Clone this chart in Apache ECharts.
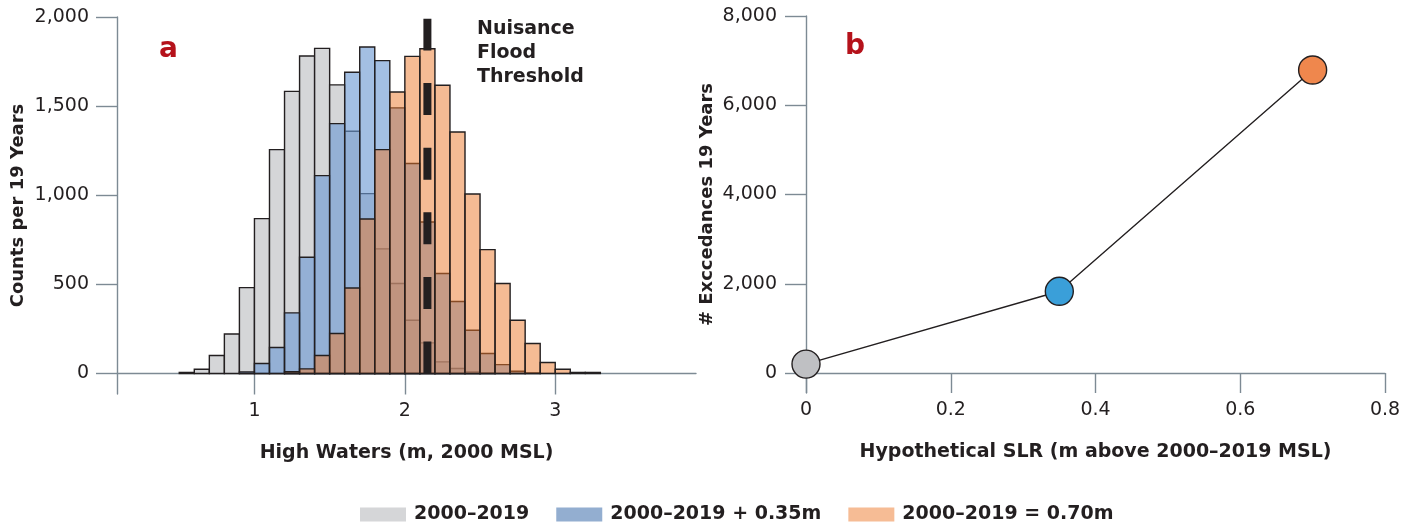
<!DOCTYPE html>
<html><head><meta charset="utf-8">
<script src="https://cdn.jsdelivr.net/npm/echarts@6/dist/echarts.min.js"></script>
<style>html,body{margin:0;padding:0;background:#fff}#c{width:1417px;height:524px}</style>
</head><body><div id="c"></div>
<script>
// ---- data ----
const binStart = [0.5,0.6,0.7,0.8,0.9,1.0,1.1,1.2,1.3,1.4,1.5,1.6,1.7,1.8,1.9,2.0,2.1,2.2,2.3,2.4,2.5,2.6,2.7,2.8,2.9,3.0,3.1,3.2];
const binWidth = 0.1;
const countsBase = [6,24,101,222,482,869,1256,1583,1781,1824,1619,1359,1009,699,505,299,172,65,28,9,3,0,0,0,0,0,0,0];
const countsPlus035 = [0,0,0,0,9,56,146,340,652,1110,1402,1690,1832,1755,1490,1178,850,561,404,243,112,50,13,3,0,0,0,0];
const countsPlus070 = [0,0,0,0,0,0,0,10,26,101,224,480,867,1256,1579,1779,1822,1617,1355,1007,695,505,299,168,62,24,6,6];
const seriesNames = ['2000\u20132019','2000\u20132019 + 0.35m','2000\u20132019 = 0.70m'];
const threshold = 2.15;
const thresholdTop = 1990;
const histYTicks = [0,500,1000,1500,2000];
const histXTicks = [1,2,3];
const slr = [0, 0.35, 0.70];
const exceedances = [200, 1831, 6790];
const slrXTicks = [0,0.2,0.4,0.6,0.8];
const exYTicks = [0,2000,4000,6000,8000];

// ---- styles ----
const FONT = 'DejaVu Sans';
const TXT = '#231f20';
const AX = '#7d8a94';
const fills = ['#d5d6d8','rgba(109,153,210,0.63)','rgba(235,119,41,0.5)'];
const legendFills = ['#d5d6d8','#93aed0','#f6bc95'];
const pointColors = ['#bfc0c3','#3a9fd9','#ef874d'];

function histData(arr){ return binStart.map((b,i)=>[b, arr[i]]).filter(d=>d[1]>0); }
function histSeries(name, arr, fill, z){
  return {
    type:'custom', name, xAxisIndex:0, yAxisIndex:0, z,
    itemStyle:{color:fill},
    data: histData(arr),
    encode:{x:0,y:1},
    renderItem:function(params, api){
      const x0 = api.value(0), c = api.value(1);
      const p1 = api.coord([x0, c]);
      const p2 = api.coord([x0 + binWidth, 0]);
      return {type:'rect', shape:{x:p1[0], y:p1[1], width:p2[0]-p1[0], height:p2[1]-p1[1]},
        style:{fill:fill, stroke:'#231f20', lineWidth:1.4}};
    }
  };
}
const fmt = v => Number(v).toLocaleString('en-US');

const chart = echarts.init(document.getElementById('c'), null, {renderer:'canvas'});
chart.setOption({
  animation:false,
  textStyle:{fontFamily:FONT, color:TXT},
  grid:[
    {left:117, right:721, top:17, bottom:130},
    {left:806, right:32, top:16, bottom:131}
  ],
  xAxis:[
    {type:'value', gridIndex:0, min:0.086, max:3.936,
     axisLine:{onZero:true, lineStyle:{color:AX, width:1.4}},
     axisTick:{show:true, customValues:histXTicks, length:21, lineStyle:{color:AX, width:1.4}},
     axisLabel:{customValues:histXTicks, fontSize:19, color:TXT, margin:8, fontFamily:FONT},
     splitLine:{show:false},
     name:'High Waters (m, 2000 MSL)', nameLocation:'middle', nameGap:50,
     nameTextStyle:{fontSize:19, fontWeight:'bold', color:TXT, fontFamily:FONT}},
    {type:'value', gridIndex:1, min:0, max:0.8,
     axisLine:{onZero:true, lineStyle:{color:AX, width:1.4}},
     axisTick:{show:true, customValues:slrXTicks, length:20, lineStyle:{color:AX, width:1.4}},
     axisLabel:{customValues:slrXTicks, fontSize:19, color:TXT, margin:8, fontFamily:FONT,
       formatter:v=>String(v)},
     splitLine:{show:false},
     name:'Hypothetical SLR (m above 2000\u20132019 MSL)', nameLocation:'middle', nameGap:50,
     nameTextStyle:{fontSize:19, fontWeight:'bold', color:TXT, fontFamily:FONT}}
  ],
  yAxis:[
    {type:'value', gridIndex:0, min:-115, max:2000,
     axisLine:{show:true, onZero:false, lineStyle:{color:AX, width:1.4}},
     axisTick:{show:true, customValues:histYTicks, length:21, lineStyle:{color:AX, width:1.4}},
     axisLabel:{customValues:histYTicks, fontSize:19, color:TXT, margin:28, fontFamily:FONT, formatter:fmt},
     splitLine:{show:false},
     name:'Counts per 19 Years', nameLocation:'middle', nameGap:90, nameRotate:90,
     nameTextStyle:{fontSize:18, fontWeight:'bold', color:TXT, fontFamily:FONT}},
    {type:'value', gridIndex:1, min:-448, max:8000,
     axisLine:{show:true, onZero:false, lineStyle:{color:AX, width:1.4}},
     axisTick:{show:true, customValues:exYTicks, length:21, lineStyle:{color:AX, width:1.4}},
     axisLabel:{customValues:exYTicks, fontSize:19, color:TXT, margin:29, fontFamily:FONT, formatter:fmt},
     splitLine:{show:false},
     name:'# Exccedances 19 Years', nameLocation:'middle', nameGap:90, nameRotate:90,
     nameTextStyle:{fontSize:18, fontWeight:'bold', color:TXT, fontFamily:FONT}}
  ],
  legend:{
    left:355, top:500, icon:'rect', itemWidth:46, itemHeight:14, itemGap:27,
    textStyle:{fontSize:19, fontWeight:'bold', color:TXT, fontFamily:FONT, padding:[0,0,0,3]},
    data: seriesNames.map((n,i)=>({name:n, itemStyle:{color:legendFills[i], borderWidth:0}}))
  },
  series:[
    histSeries(seriesNames[0], countsBase, fills[0], 2),
    histSeries(seriesNames[1], countsPlus035, fills[1], 3),
    histSeries(seriesNames[2], countsPlus070, fills[2], 4),
    {type:'line', name:'threshold', xAxisIndex:0, yAxisIndex:0, z:6,
     data:[[threshold,0],[threshold,thresholdTop]], symbol:'none', silent:true,
     lineStyle:{color:'#231f20', width:8, type:[32,32.6], cap:'butt'}},
    {type:'line', name:'exceed', xAxisIndex:1, yAxisIndex:1, z:5,
     data: slr.map((x,i)=>({value:[x, exceedances[i]], itemStyle:{color:pointColors[i]}})),
     symbol:'circle', symbolSize:28,
     lineStyle:{color:'#231f20', width:1.4},
     itemStyle:{borderColor:'#231f20', borderWidth:1.4, opacity:1}}
  ],
  graphic:[
    {type:'text', left:159, top:36, style:{text:'a', fontSize:28, fontWeight:'bold', fill:'#b5121b', fontFamily:FONT}},
    {type:'text', left:845, top:33, style:{text:'b', fontSize:28, fontWeight:'bold', fill:'#b5121b', fontFamily:FONT}},
    {type:'text', left:477, top:17, style:{text:'Nuisance\nFlood\nThreshold', fontSize:19, lineHeight:24, fontWeight:'bold', fill:TXT, fontFamily:FONT}}
  ]
});
</script></body></html>
